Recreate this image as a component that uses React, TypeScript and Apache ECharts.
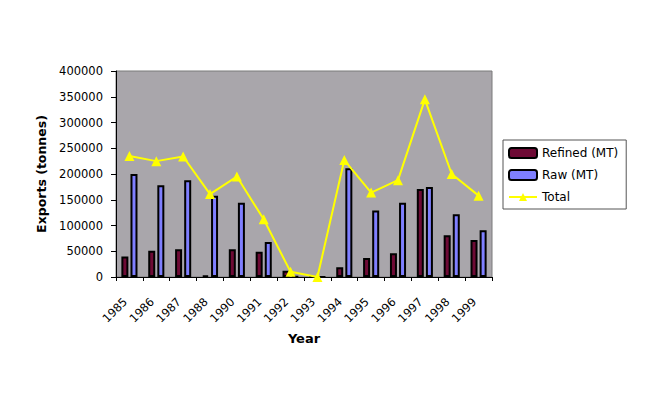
import React, { useEffect, useRef } from "react";
import * as echarts from "echarts";

const years = ["1985", "1986", "1987", "1988", "1990", "1991", "1992", "1993", "1994", "1995", "1996", "1997", "1998", "1999"];
const refined = [40000, 51000, 54000, 3000, 54000, 49000, 12000, 0, 19000, 37000, 46000, 171000, 81000, 72000];
const raw = [200000, 178000, 188000, 158000, 144000, 68000, 1000, 0, 211000, 129000, 144000, 175000, 122000, 91000];
const total = [235000, 225000, 234000, 161000, 195000, 112000, 10000, 0, 227000, 164000, 188000, 345000, 200000, 158000];

const FONT = "DejaVu Sans";

export default function App() {
  const ref = useRef<HTMLDivElement>(null);
  useEffect(() => {
    if (!ref.current) return;
    const chart = echarts.init(ref.current, null, { renderer: "svg" });
    chart.setOption({
      animation: false,
      backgroundColor: "#ffffff",
      textStyle: { fontFamily: FONT, color: "#000" },
      grid: {
        left: 116,
        right: 158,
        top: 71,
        bottom: 117,
        show: true,
        backgroundColor: "#a9a6ab",
        borderColor: "#7a7a7a",
        borderWidth: 1,
      },
      legend: {
        orient: "vertical",
        left: 503,
        top: 140,
        padding: [6, 8, 5, 5],
        itemWidth: 28,
        itemHeight: 10,
        itemGap: 8,
        borderColor: "#555",
        borderWidth: 1,
        backgroundColor: "#ffffff",
        textStyle: { fontFamily: FONT, fontSize: 12, color: "#000", lineHeight: 14 },
        data: ["Refined (MT)", "Raw (MT)", "Total"],
      },
      xAxis: {
        type: "category",
        data: years,
        name: "Year",
        nameLocation: "middle",
        nameGap: 54,
        nameTextStyle: { fontFamily: FONT, fontSize: 13, fontWeight: "bold", color: "#000" },
        axisLine: { lineStyle: { color: "#000", width: 1 } },
        axisTick: { show: true, length: 4, lineStyle: { color: "#000" } },
        axisLabel: {
          rotate: 45,
          interval: 0,
          margin: 27,
          verticalAlign: "bottom",
          fontFamily: FONT,
          fontSize: 11.5,
          color: "#000",
        },
      },
      yAxis: {
        type: "value",
        min: 0,
        max: 400000,
        interval: 50000,
        name: "Exports (tonnes)",
        nameLocation: "middle",
        nameGap: 64,
        nameRotate: 90,
        nameTextStyle: { fontFamily: FONT, fontSize: 12.5, fontWeight: "bold", color: "#000" },
        axisLine: { show: true, lineStyle: { color: "#000", width: 1 } },
        axisTick: { show: true, length: 5, lineStyle: { color: "#000" } },
        axisLabel: {
          margin: 13,
          fontFamily: FONT,
          fontSize: 11.5,
          color: "#000",
          formatter: (v: number) => String(v),
        },
        splitLine: { show: false },
      },
      series: [
        {
          name: "Refined (MT)",
          type: "bar",
          data: refined,
          barWidth: 7,
          barGap: "30%",
          itemStyle: { color: "#6e0a35", borderColor: "#000", borderWidth: 2 },
        },
        {
          name: "Raw (MT)",
          type: "bar",
          data: raw,
          barWidth: 7,
          itemStyle: { color: "#7f7fff", borderColor: "#000", borderWidth: 2 },
        },
        {
          name: "Total",
          type: "line",
          data: total,
          symbol: "triangle",
          symbolSize: 10,
          lineStyle: { color: "#ffff00", width: 2 },
          itemStyle: { color: "#ffff00" },
          z: 5,
        },
      ],
    });
    return () => chart.dispose();
  }, []);
  return <div ref={ref} style={{ position: "fixed", left: 0, top: 0, width: 650, height: 394 }} />;
}
